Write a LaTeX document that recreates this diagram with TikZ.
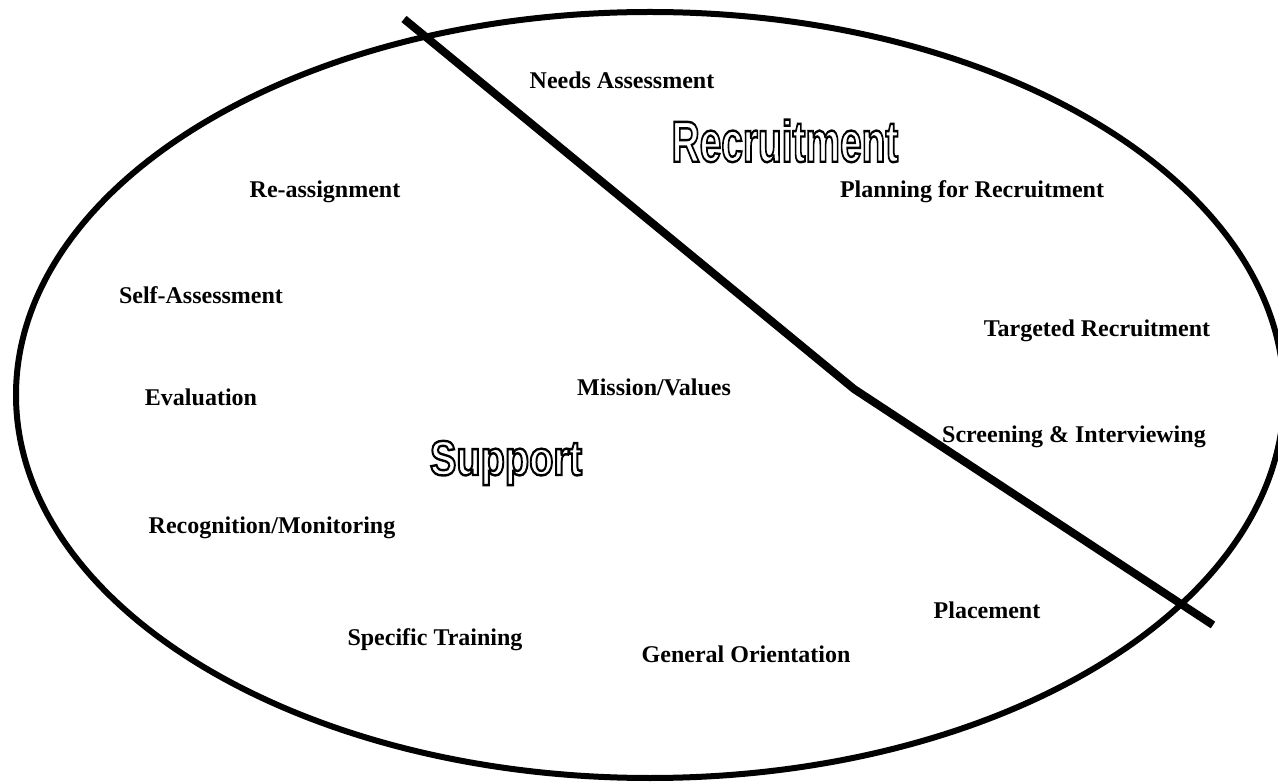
\documentclass[tikz,border=0pt]{standalone}
\usepackage{fontspec}
\setmainfont{Liberation Serif}
\newfontfamily\bannerfont{Liberation Sans}
\usetikzlibrary{positioning}

% hollow lettering: stroke the glyph outlines only
\newcommand{\hollow}[1]{\special{pdf:literal direct 1 Tr 2.4 w}#1\special{pdf:literal direct 0 Tr}}

\begin{document}
\begin{tikzpicture}[x=1pt, y=-1pt,
	stage/.style={font=\fontsize{24}{28}\selectfont\bfseries, inner sep=0pt},
	banner/.style={font=\bannerfont\bfseries, inner sep=0pt}]
	\useasboundingbox (0,0) rectangle (1278,783);
	\clip (0,0) rectangle (1278,783);
	\draw[line width=6pt] (650,395) ellipse [x radius=634, y radius=383];
	% the cut between the two halves
	\coordinate (cutA) at (404,19);
	\coordinate (cutB) at (854,389);
	\coordinate (cutC) at (1213,625);
	\draw[line width=8pt] (cutA) -- (cutB) -- (cutC);
	\node[banner] (recruit) at (785,141) {\fontsize{58}{60}\selectfont\scalebox{0.67}[1]{\hollow{Recruitment}}};
	\node[banner] (support) at (506,463) {\fontsize{49}{52}\selectfont\scalebox{0.81}[1]{\hollow{Support}}};
	\node[stage] (needs) at (622,80) {Needs Assessment};
	\node[stage] (plan) at (972,192) {Planning for Recruitment};
	\node[stage] (target) at (1097,331) {Targeted Recruitment};
	\node[stage] (screen) at (1074,437) {Screening \& Interviewing};
	\node[stage] (place) at (987,610) {Placement};
	\node[stage] (general) at (746,654) {General Orientation};
	\node[stage] (specific) at (435,640) {Specific Training};
	\node[stage] (recog) at (272,528) {Recognition/Monitoring};
	\node[stage] (eval) at (201,397) {Evaluation};
	\node[stage] (self) at (201,295) {Self-Assessment};
	\node[stage] (reassign) at (325,192) {Re-assignment};
	\node[stage] (mission) at (654,387) {Mission/Values};
\end{tikzpicture}
\end{document}
